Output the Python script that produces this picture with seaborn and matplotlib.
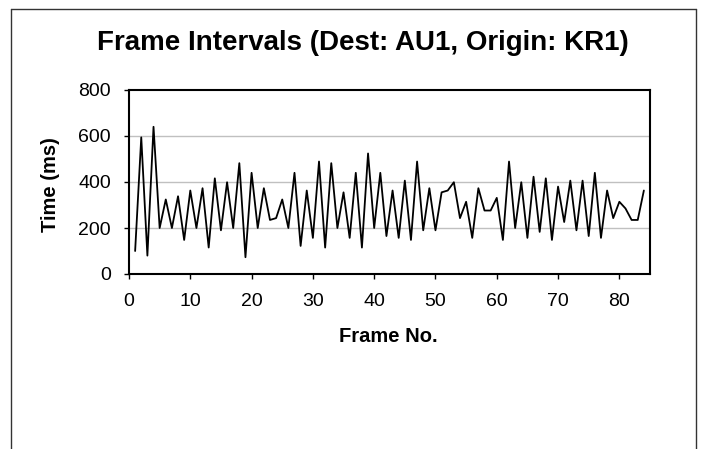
import matplotlib
matplotlib.use("Agg")
import matplotlib.pyplot as plt
from matplotlib.lines import Line2D
import seaborn as sns
import pandas as pd

# Inter-arrival time of each received frame (ms)
frame_no = list(range(1, 85))
interval_ms = [
    100, 594, 80, 640, 200, 324, 200, 338, 148, 363,
    200, 373, 115, 416, 190, 399, 200, 482, 73, 440,
    200, 373, 235, 243, 324, 200, 440, 122, 363, 157,
    489, 115, 482, 200, 355, 157, 440, 115, 524, 200,
    440, 165, 363, 157, 406, 148, 489, 190, 373, 190,
    355, 363, 399, 243, 314, 157, 373, 276, 276, 331,
    148, 489, 200, 399, 157, 423, 183, 416, 148, 380,
    226, 406, 190, 406, 165, 440, 157, 363, 243, 314,
    285, 235, 235, 363,
]
x_ticks = [0, 10, 20, 30, 40, 50, 60, 70, 80]
y_ticks = [0, 200, 400, 600, 800]

df = pd.DataFrame({"Frame No.": frame_no, "Time (ms)": interval_ms})

sns.set_theme(style="white")
plt.rcParams["font.family"] = ["Liberation Sans", "DejaVu Sans"]

W, H = 704, 449
fig = plt.figure(figsize=(W / 100, H / 100), dpi=100)
fig.patch.set_facecolor("white")

ax = fig.add_axes([129 / W, 1 - 274 / H, (650 - 129) / W, (274 - 90) / H])
sns.lineplot(data=df, x="Frame No.", y="Time (ms)", color="black",
             linewidth=1.3, ax=ax, legend=False)

ax.set_xlim(0, 85)
ax.set_ylim(0, 800)
ax.set_xticks(x_ticks)
ax.set_yticks(y_ticks)
ax.tick_params(axis="both", direction="out", length=3.6, width=1, color="black",
               labelsize=14, bottom=True, left=True)
ax.tick_params(axis="x", pad=10)
ax.tick_params(axis="y", pad=9.5)
for lbl in ax.get_xticklabels() + ax.get_yticklabels():
    lbl.set_color("black")

for y in y_ticks[1:-1]:
    ax.axhline(y, color="#c0c0c0", linewidth=1, zorder=0)
for side in ["top", "bottom", "left", "right"]:
    ax.spines[side].set_visible(True)
    ax.spines[side].set_color("black")
    ax.spines[side].set_linewidth(1.5)

ax.set_xlabel("")
ax.set_ylabel("")
fig.text(388 / W, 1 - 337 / H, "Frame No.", ha="center", va="center",
         fontsize=14.5, fontweight="bold", color="black")
fig.text(51 / W, 1 - 185 / H, "Time (ms)", ha="center", va="center", rotation=90,
         fontsize=14.5, fontweight="bold", color="black")

fig.text(363 / W, 1 - 43 / H, "Frame Intervals (Dest: AU1, Origin: KR1)",
         ha="center", va="center", fontsize=20, fontweight="bold", color="black")

# chart area border
bx0, by0, bx1 = 11 / W, 1 - 9 / H, 696 / W
fig.add_artist(Line2D([bx0, bx0], [0, by0], color="#333333", linewidth=1))
fig.add_artist(Line2D([bx0, bx1], [by0, by0], color="#333333", linewidth=1))
fig.add_artist(Line2D([bx1, bx1], [0, by0], color="#333333", linewidth=1))

fig.savefig("out.png", dpi=100, facecolor="white")
